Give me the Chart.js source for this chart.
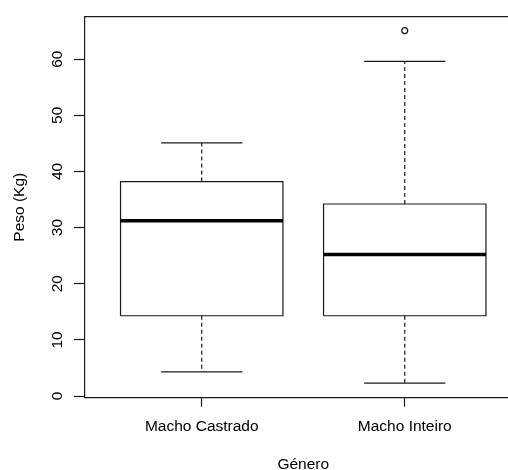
<!DOCTYPE html>
<html><head><meta charset="utf-8">
<script src="https://cdn.jsdelivr.net/npm/chart.js@4/dist/chart.umd.min.js"></script>
<style>html,body{margin:0;padding:0;background:#fff;overflow:hidden}#wrap{width:508px;height:470px;overflow:hidden;position:relative}</style>
</head><body><div id="wrap"><canvas id="c" width="530" height="470" style="width:530px;height:470px"></canvas></div>
<script>
const categories = ['Macho Castrado', 'Macho Inteiro'];
const lowerWhisker = [4.3, 2.3];
const lowerQuartile = [14.3, 14.3];
const medians = [31.2, 25.2];
const upperQuartile = [38.2, 34.2];
const upperWhisker = [45.1, 59.6];
const outliers = [[], [65.1]];
const yTicks = [0, 10, 20, 30, 40, 50, 60];
const yTitle = 'Peso (Kg)';
const xTitle = 'Género';

const yMin = -0.3, yMax = 67.55, xMin = 0.425, xMax = 2.575;
const boxHalf = 0.4, capHalf = 0.2;
const FONT = {family: '"Liberation Sans", Arial, sans-serif', size: 15.5};
const LINE = '#1a1a1a';

const datasets = [];
function seg(pts, extra) {
  return Object.assign({data: pts, showLine: true, borderColor: LINE, borderWidth: 1.2,
    pointRadius: 0, fill: false, tension: 0, borderJoinStyle: 'miter', borderCapStyle: 'butt'}, extra || {});
}
categories.forEach((cat, i) => {
  const x = i + 1;
  datasets.push(seg([{x: x, y: upperQuartile[i]}, {x: x, y: upperWhisker[i]}], {borderDash: [4, 3]}));
  datasets.push(seg([{x: x, y: lowerQuartile[i]}, {x: x, y: lowerWhisker[i]}], {borderDash: [4, 3]}));
  datasets.push(seg([{x: x - capHalf, y: upperWhisker[i]}, {x: x + capHalf, y: upperWhisker[i]}]));
  datasets.push(seg([{x: x - capHalf, y: lowerWhisker[i]}, {x: x + capHalf, y: lowerWhisker[i]}]));
  datasets.push(seg([
    {x: x - boxHalf, y: lowerQuartile[i]}, {x: x + boxHalf, y: lowerQuartile[i]},
    {x: x + boxHalf, y: upperQuartile[i]}, {x: x - boxHalf, y: upperQuartile[i]},
    {x: x - boxHalf, y: lowerQuartile[i]}]));
  datasets.push(seg([{x: x - boxHalf, y: medians[i]}, {x: x + boxHalf, y: medians[i]}], {borderWidth: 3.5, borderColor: '#000'}));
  if (outliers[i].length) {
    datasets.push({data: outliers[i].map(v => ({x: x, y: v})), showLine: false, pointRadius: 3,
      pointBorderWidth: 1.2, pointBorderColor: LINE, pointBackgroundColor: 'rgba(0,0,0,0)', pointStyle: 'circle'});
  }
});
datasets.reverse();

new Chart(document.getElementById('c'), {
  type: 'scatter',
  data: {datasets},
  options: {
    responsive: false, animation: false, events: [],
    layout: {padding: {left: 0, right: 8.5, top: 14, bottom: 0}},
    plugins: {legend: {display: false}, tooltip: {enabled: false}},
    scales: {
      x: {
        type: 'linear', position: 'bottom', min: xMin, max: xMax,
        afterBuildTicks: s => { s.ticks = categories.map((c, i) => ({value: i + 1})); },
        ticks: {callback: v => categories[Math.round(v) - 1] || '', color: '#000', font: FONT, padding: 11, maxRotation: 0, autoSkip: false},
        grid: {display: true, drawOnChartArea: false, drawTicks: true, tickLength: 9, tickColor: LINE, tickWidth: 1.2},
        border: {display: true, color: LINE, width: 1.2},
        title: {display: true, text: xTitle, color: '#000', font: Object.assign({lineHeight: 0.65}, FONT), padding: {top: 0, bottom: 0}},
        afterFit: s => { s.height = 72.3; }
      },
      xTop: {
        type: 'linear', position: 'top', min: xMin, max: xMax, display: true,
        ticks: {display: false}, grid: {display: false, drawTicks: false},
        border: {display: true, color: LINE, width: 1.2},
        afterFit: s => { s.height = 0; }
      },
      y: {
        type: 'linear', position: 'left', min: yMin, max: yMax,
        afterBuildTicks: s => { s.ticks = yTicks.map(v => ({value: v})); },
        ticks: {color: '#000', font: FONT, minRotation: 90, maxRotation: 90, crossAlign: 'center', padding: 7.5, autoSkip: false},
        grid: {display: true, drawOnChartArea: false, drawTicks: true, tickLength: 11, tickColor: LINE, tickWidth: 1.2},
        border: {display: true, color: LINE, width: 1.2},
        title: {display: true, text: yTitle, color: '#000', font: Object.assign({lineHeight: 0.9}, FONT), padding: {top: 13, bottom: 0}},
        afterFit: s => { s.width = 85; }
      }
    }
  }
});
</script>
</body></html>
